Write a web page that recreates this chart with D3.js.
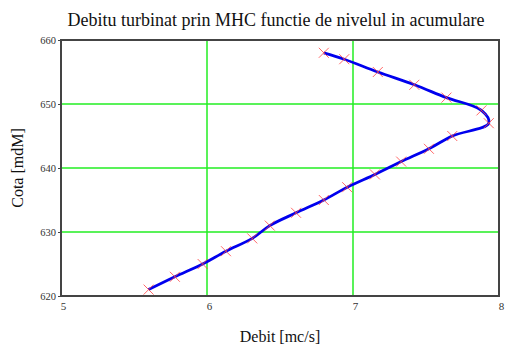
<!DOCTYPE html>
<html><head><meta charset="utf-8">
<script src="https://cdn.jsdelivr.net/npm/d3@7"></script>
<style>body{margin:0;background:#fff}svg{display:block}
svg text{font-family:"Liberation Serif","Times New Roman","DejaVu Serif",serif !important}</style>
</head><body>
<script>
const levels = [658, 657, 655, 653, 651, 649, 647, 645, 643, 641, 639, 637, 635, 633, 631, 629, 627, 625, 623, 621];
const flows  = [6.80, 6.94, 7.17, 7.42, 7.64, 7.88, 7.93, 7.68, 7.52, 7.33, 7.15, 6.96, 6.80, 6.61, 6.43, 6.31, 6.13, 5.97, 5.78, 5.60];
const xTicks = [5, 6, 7, 8];
const yTicks = [620, 630, 640, 650, 660];
const title = "Debitu turbinat prin MHC functie de nivelul in acumulare";
const xLabel = "Debit [mc/s]";
const yLabel = "Cota [mdM]";

const W = 505, H = 347;
const m = {left: 61, right: 6, top: 40, bottom: 51};
const svg = d3.select("body").append("svg").attr("width", W).attr("height", H);
const x = d3.scaleLinear().domain([5, 8]).range([m.left, W - m.right]);
const y = d3.scaleLinear().domain([620, 660]).range([H - m.bottom, m.top]);

// grid
svg.append("g").selectAll("line").data(xTicks.slice(1, -1)).join("line")
  .attr("x1", d => x(d)).attr("x2", d => x(d)).attr("y1", y(620)).attr("y2", y(660))
  .attr("stroke", "#22ee22").attr("stroke-width", 1.5);
svg.append("g").selectAll("line").data(yTicks.slice(1, -1)).join("line")
  .attr("y1", d => y(d)).attr("y2", d => y(d)).attr("x1", x(5)).attr("x2", x(8))
  .attr("stroke", "#22ee22").attr("stroke-width", 1.5);

// axes
const xAxis = svg.append("g").attr("transform", `translate(0,${y(620)})`)
  .call(d3.axisBottom(x).tickValues(xTicks).tickSize(0).tickPadding(6).tickFormat(d3.format("d")));
const yAxis = svg.append("g").attr("transform", `translate(${x(5)},0)`)
  .call(d3.axisLeft(y).tickValues(yTicks).tickSize(3).tickPadding(2).tickFormat(d3.format("d")));
[xAxis, yAxis].forEach(g => {
  g.select(".domain").remove();
  g.selectAll("text").attr("font-size", 11).attr("fill", "#333");
  g.selectAll("line").attr("stroke", "#444");
});
xAxis.selectAll("text").attr("dx", 2);
yAxis.selectAll("text").attr("font-size", 10.5);

// frame
svg.append("rect").attr("x", x(5)).attr("y", y(660)).attr("width", x(8) - x(5)).attr("height", y(620) - y(660))
  .attr("fill", "none").attr("stroke", "#444").attr("stroke-width", 2);

const pts = levels.map((l, i) => [flows[i], l]);

// curve
svg.append("path").datum(pts)
  .attr("d", d3.line().x(d => x(d[0])).y(d => y(d[1])).curve(d3.curveCatmullRom.alpha(0.5)))
  .attr("fill", "none").attr("stroke", "#0000ee").attr("stroke-width", 2.8);

// markers
const s = 5;
const mk = svg.append("g").attr("stroke", "#ff4444").attr("stroke-width", 1).attr("stroke-opacity", 0.8);
mk.selectAll("path").data(pts).join("path")
  .attr("d", d => {
    const cx = x(d[0]), cy = y(d[1]);
    return `M${cx - s},${cy - s}L${cx + s},${cy + s}M${cx - s},${cy + s}L${cx + s},${cy - s}`;
  });

// texts
svg.append("text").attr("x", 276).attr("y", 26).attr("text-anchor", "middle")
  .attr("font-size", 18).attr("fill", "#111").text(title);
svg.append("text").attr("x", 280).attr("y", 342).attr("text-anchor", "middle")
  .attr("font-size", 16).attr("fill", "#111").text(xLabel);
svg.append("text").attr("transform", `translate(23,${y(640)}) rotate(-90)`).attr("text-anchor", "middle")
  .attr("font-size", 16).attr("fill", "#111").text(yLabel);
</script>
</body></html>
